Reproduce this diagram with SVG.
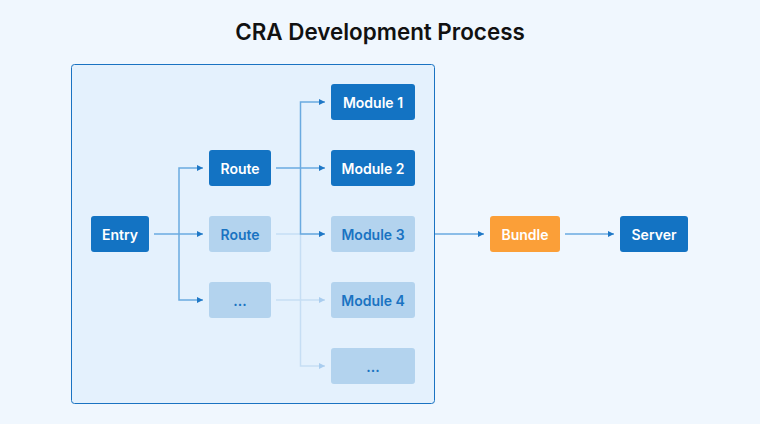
<svg xmlns="http://www.w3.org/2000/svg" width="760" height="424" viewBox="0 0 760 424">
  <defs>
    <marker id="ad" viewBox="0 0 6 6" refX="6" refY="3" markerWidth="6" markerHeight="6" markerUnits="userSpaceOnUse" orient="auto">
      <path d="M0,0 L6,3 L0,6 Z" fill="#1f78c6"/>
    </marker>
    <marker id="al" viewBox="0 0 6 6" refX="6" refY="3" markerWidth="6" markerHeight="6" markerUnits="userSpaceOnUse" orient="auto">
      <path d="M0,0 L6,3 L0,6 Z" fill="#a9cdef"/>
    </marker>
  </defs>
  <style>
    .dark rect { fill: #1373c3; }
    .light rect { fill: #b3d3ee; }
    .orange rect { fill: #fb9f38; }
    text { font-family: Inter, "Noto Sans", "Liberation Sans", sans-serif; font-size: 14px; font-weight: 600; text-anchor: middle; dominant-baseline: central; }
    .dark text, .orange text { fill: #ffffff; }
    .light text { fill: #1a73c2; }
    .cd { fill: none; stroke: #6aaae0; stroke-width: 1.5; }
    .cl { fill: none; stroke: #c6def4; stroke-width: 1.5; }
    .cd.a { marker-end: url(#ad); }
    .cl.a { marker-end: url(#al); }
  </style>
  <rect x="0" y="0" width="760" height="424" fill="#f0f7fe"/>
  <text x="380" y="31" style="font-size:22.4px;font-weight:600;fill:#111111;">CRA Development Process</text>
  <g id="container">
    <rect x="71.5" y="64.5" width="363" height="339" rx="3" fill="#e4f1fd" stroke="#1a73c2" stroke-width="1"/>
  </g>
  <g id="connectors">
    <path class="cd a" d="M154,234 H203"/>
    <path class="cd a" d="M179,234 V168 H203"/>
    <path class="cd a" d="M179,234 V300 H203"/>
    <path class="cl a" d="M276,234 H325"/>
    <path class="cl a" d="M300.5,234 V300 H325"/>
    <path class="cl a" d="M276,300 H300.5 V366 H325"/>
    <path class="cd a" d="M276,168 H325"/>
    <path class="cd a" d="M300.5,168 V102 H325"/>
    <path class="cd a" d="M300.5,168 V234 H325"/>
    <path class="cd a" d="M435,234 H484"/>
    <path class="cd a" d="M565,234 H614"/>
  </g>
  <g id="entry" class="dark"><rect x="91" y="216" width="58" height="36" rx="3"/><text x="120" y="234">Entry</text></g>
  <g id="route1" class="dark"><rect x="209" y="150" width="62" height="36" rx="3"/><text x="240" y="168">Route</text></g>
  <g id="route2" class="light"><rect x="209" y="216" width="62" height="36" rx="3"/><text x="240" y="234">Route</text></g>
  <g id="route3" class="light"><rect x="209" y="282" width="62" height="36" rx="3"/><text x="240" y="300">...</text></g>
  <g id="module1" class="dark"><rect x="331" y="84" width="84" height="36" rx="3"/><text x="373" y="102">Module 1</text></g>
  <g id="module2" class="dark"><rect x="331" y="150" width="84" height="36" rx="3"/><text x="373" y="168">Module 2</text></g>
  <g id="module3" class="light"><rect x="331" y="216" width="84" height="36" rx="3"/><text x="373" y="234">Module 3</text></g>
  <g id="module4" class="light"><rect x="331" y="282" width="84" height="36" rx="3"/><text x="373" y="300">Module 4</text></g>
  <g id="module5" class="light"><rect x="331" y="348" width="84" height="36" rx="3"/><text x="373" y="366">...</text></g>
  <g id="bundle" class="orange"><rect x="490" y="216" width="70" height="36" rx="3"/><text x="525" y="234">Bundle</text></g>
  <g id="server" class="dark"><rect x="620" y="216" width="68" height="36" rx="3"/><text x="654" y="234">Server</text></g>
</svg>
